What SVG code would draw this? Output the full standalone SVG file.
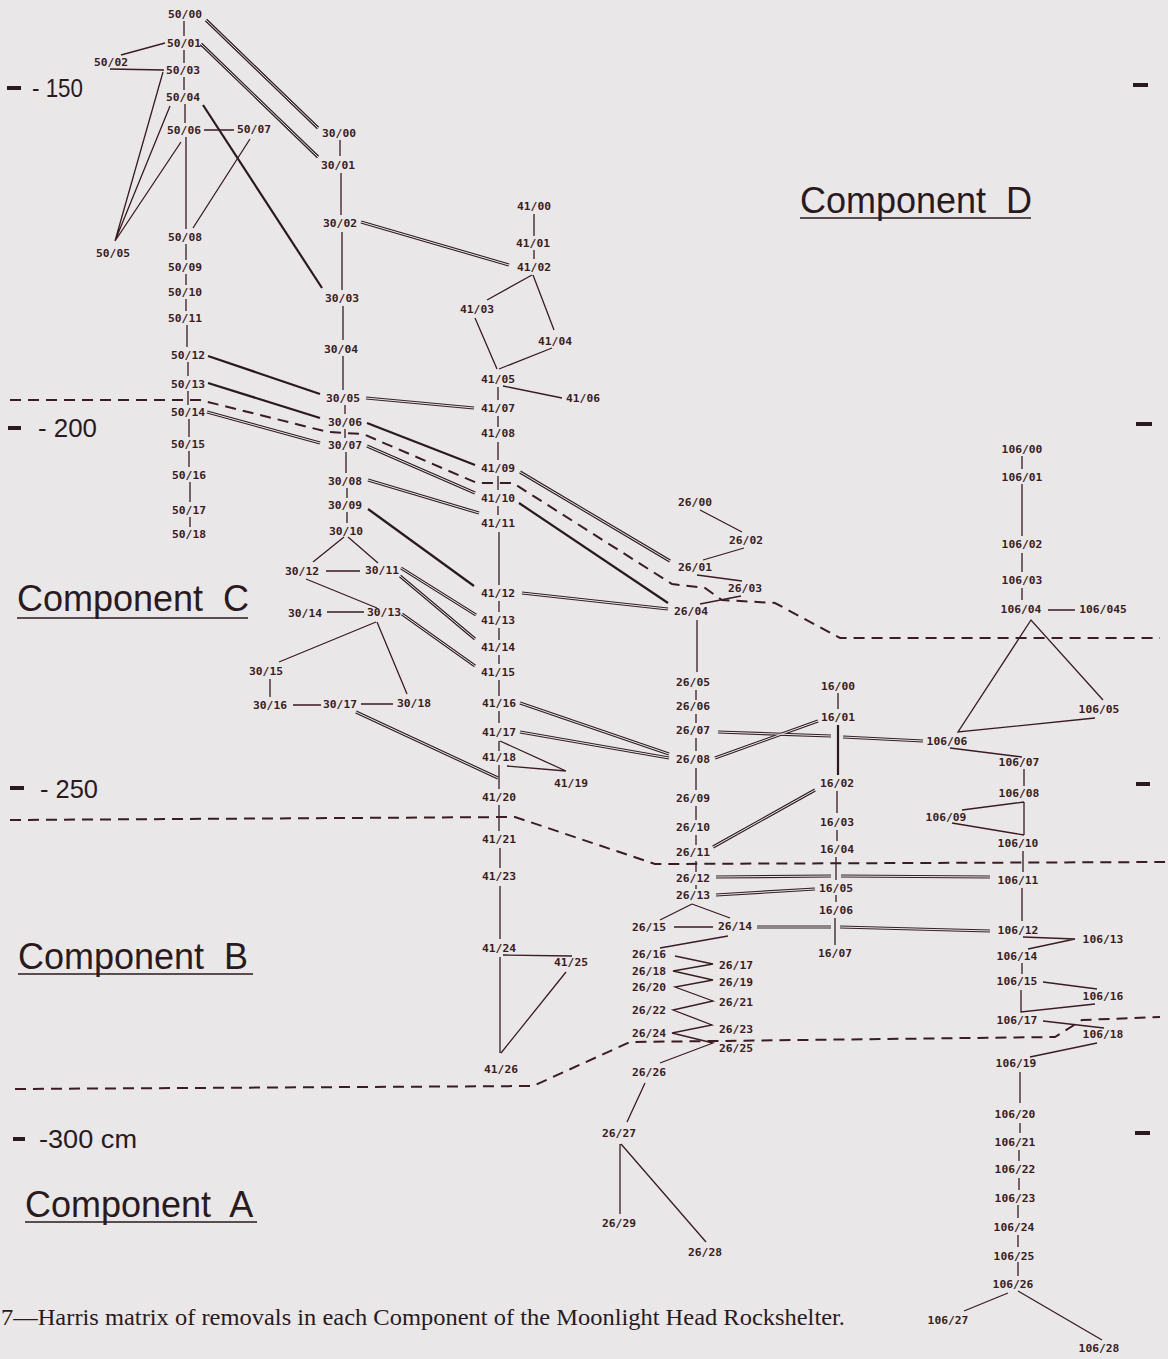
<svg xmlns="http://www.w3.org/2000/svg" xmlns:xlink="http://www.w3.org/1999/xlink" width="1168" height="1359" viewBox="0 0 1168 1359">
<style>
.n{font-family:"DejaVu Sans Mono","Liberation Mono",monospace;font-size:11.3px;font-weight:bold;text-anchor:middle;fill:#3a1c22}
.big{font-family:"Liberation Sans",Arial,sans-serif;font-size:36px;fill:#2a1a1e;word-spacing:10px}
.dep{font-family:"Liberation Sans",Arial,sans-serif;font-size:25px;fill:#2a1a1e}
.cap{font-family:"Liberation Serif","Times New Roman",serif;font-size:23px;fill:#2a1a1e}
.t{fill:none;stroke:#3a1c22;stroke-width:1.3}
.k{fill:none;stroke:#2a1a1e;stroke-width:2.2}
.d{fill:none;stroke:#3a1c22;stroke-width:2;stroke-dasharray:11 7}
.u{fill:none;stroke:#2a1a1e;stroke-width:1.6}
.tick{fill:none;stroke:#2a1a1e;stroke-width:4}
</style>
<defs>
<g id="dblset">
<path d="M206 20L318 128"/>
<path d="M201 44L318 157"/>
<path d="M361 222L509 265"/>
<path d="M366 398L474 408"/>
<path d="M207 412L320 443"/>
<path d="M367 446L475 493"/>
<path d="M368 480L479 513"/>
<path d="M401 568L476 615"/>
<path d="M400 576L475 639"/>
<path d="M402 614L475 666"/>
<path d="M356 712L498 778"/>
<path d="M520 472L670 561"/>
<path d="M522 593L668 609"/>
<path d="M520 703L669 754"/>
<path d="M520 732L669 758"/>
<path d="M718 732L831 736M843 737L923 741"/>
<path d="M715 758L818 721"/>
<path d="M713 847L815 790"/>
<path d="M716 877L831 876M841 876L990 877"/>
<path d="M716 895L815 889"/>
<path d="M757 927L831 927M840 927L990 931"/>
</g>
</defs>
<rect width="1168" height="1359" fill="#e9e7e8"/>

<g id="connectors">
<g id="boundaries">
<path class="d" d="M10 400L200 400L328 432L363 434L477 483L513 483L672 584L705 588L722 600L775 603L840 638L1160 638"/>
<path class="d" d="M10 820L515 817L655 864L1165 862"/>
<path class="d" d="M15 1089L533 1086L630 1042L1055 1037L1082 1020L1160 1017"/>
</g>
<g id="double-lines">
<use xlink:href="#dblset" href="#dblset" fill="none" stroke="#332228" stroke-width="3.2"/>
<use xlink:href="#dblset" href="#dblset" fill="none" stroke="#e9e7e8" stroke-width="1"/>
</g>
<g id="thick-lines">
<path class="k" d="M203 105L322 288"/>
<path class="k" d="M208 356L320 394"/>
<path class="k" d="M208 383L320 418"/>
<path class="k" d="M367 423L475 465"/>
<path class="k" d="M368 509L474 586"/>
<path class="k" d="M519 503L668 603"/>
<path class="k" d="M838 725V775"/>
</g>
<g id="thin-lines">
<path class="t" d="M184 21V36M184 50V63M184 77V90M185 104V123M186 137V229M186 244V260M186 274V285M186 299V311M187 325V347M188 362V376M188 391V405M189 419V437M189 451V467M190 482V502M190 517V527"/>
<path class="t" d="M165 43L121 55M110 69L164 70M163 72L115 241M170 106L115 241M181 142L115 241M204 130H234M250 139L193 228"/>
<path class="t" d="M340 140V156M341 173V215M342 232V290M343 306V340M343 356V390M345 405V414M345 429V438M346 452V473M347 488V498M347 512V523"/>
<path class="t" d="M344 537L313 562M348 537L378 563M326 571H360M306 579L377 608M327 612H364M376 622L279 662M377 622L407 694M270 679V697M293 705H321M361 704H393"/>
<path class="t" d="M534 214V236M534 250V259M532 275L487 300M533 275L554 330M475 318L497 369M552 348L499 369M503 386L562 398"/>
<path class="t" d="M498 387V400M498 416V427M498 442V460M498 476V490M498 506V515M499 532V585M499 601V612M499 628V640M499 655V664M499 680V696M499 711V723M499 741V751M500 741L566 771M507 766L566 771M499 765V789M499 805V831M500 848V868M500 886V939M503 955L572 956M500 957V1053M566 972L501 1053"/>
<path class="t" d="M700 510L742 532M744 548L703 560M697 575L742 581M741 596L700 604M697 620V672M696 690V700M696 714V723M696 738V751M696 768V790M696 806V820M696 835V845M696 861V872M696 885V889"/>
<path class="t" d="M692 904L660 920M692 904L730 918M674 927H713M728 936L660 948M675 956L713 964L673 971L713 980L675 987L713 1001L673 1010L712 1025L672 1033L713 1043L660 1063M645 1083L627 1122M620 1144V1214M621 1144L706 1242"/>
<path class="t" d="M838 693V709M837 791V813M837 830V841M836 857V880M836 895V902M835 918V945"/>
<path class="t" d="M1022 456V469M1022 484V536M1022 553V572M1022 588V600M1048 610H1075M1103 700L1031 620L958 732L1095 718M950 748L1022 757M1024 769V786M1024 802L962 810M1024 802V835M952 823L1024 835M1023 851V872M1022 888V921M1023 937L1075 939L1028 949M1022 963V974M1043 982L1097 989M1021 990V1012L1095 1004M1043 1021L1104 1028M1097 1043L1030 1057"/>
<path class="t" d="M1020 1072V1103M1020 1123V1133M1019 1150V1161M1019 1178V1190M1018 1205V1218M1018 1235V1247M1018 1262V1276M1008 1293L964 1311M1018 1291L1102 1340"/>
</g>
</g>

<g id="scale">
<path class="tick" d="M7 88H21M8 428H21M10 788H24M13 1139H25M1133 85H1148M1136 424H1152M1136 784H1150M1135 1133H1150"/>
<text class="dep" x="32" y="97" textLength="51" lengthAdjust="spacingAndGlyphs">- 150</text>
<text class="dep" x="38" y="437" textLength="59" lengthAdjust="spacingAndGlyphs">- 200</text>
<text class="dep" x="40" y="798" textLength="58" lengthAdjust="spacingAndGlyphs">- 250</text>
<text class="dep" x="39" y="1148" textLength="98" lengthAdjust="spacingAndGlyphs">-300 cm</text>
</g>

<g id="component-labels">
<text class="big" x="800" y="213">Component D</text>
<path class="u" d="M800 218H1031"/>
<text class="big" x="17" y="611">Component C</text>
<path class="u" d="M17 618H248"/>
<text class="big" x="18" y="969">Component B</text>
<path class="u" d="M18 974H253"/>
<text class="big" x="25" y="1217">Component A</text>
<path class="u" d="M25 1222H257"/>
</g>

<text id="caption" class="cap" x="1" y="1325" textLength="844" lengthAdjust="spacingAndGlyphs">7—Harris matrix of removals in each Component of the Moonlight Head Rockshelter.</text>

<g id="n50-00"><text class="n" x="185" y="18">50/00</text></g>
<g id="n50-01"><text class="n" x="184" y="47">50/01</text></g>
<g id="n50-02"><text class="n" x="111" y="66">50/02</text></g>
<g id="n50-03"><text class="n" x="183" y="74">50/03</text></g>
<g id="n50-04"><text class="n" x="183" y="101">50/04</text></g>
<g id="n50-06"><text class="n" x="184" y="134">50/06</text></g>
<g id="n50-07"><text class="n" x="254" y="133">50/07</text></g>
<g id="n50-05"><text class="n" x="113" y="257">50/05</text></g>
<g id="n50-08"><text class="n" x="185" y="241">50/08</text></g>
<g id="n50-09"><text class="n" x="185" y="271">50/09</text></g>
<g id="n50-10"><text class="n" x="185" y="296">50/10</text></g>
<g id="n50-11"><text class="n" x="185" y="322">50/11</text></g>
<g id="n50-12"><text class="n" x="188" y="359">50/12</text></g>
<g id="n50-13"><text class="n" x="188" y="388">50/13</text></g>
<g id="n50-14"><text class="n" x="188" y="416">50/14</text></g>
<g id="n50-15"><text class="n" x="188" y="448">50/15</text></g>
<g id="n50-16"><text class="n" x="189" y="479">50/16</text></g>
<g id="n50-17"><text class="n" x="189" y="514">50/17</text></g>
<g id="n50-18"><text class="n" x="189" y="538">50/18</text></g>

<g id="n30-00"><text class="n" x="339" y="137">30/00</text></g>
<g id="n30-01"><text class="n" x="338" y="169">30/01</text></g>
<g id="n30-02"><text class="n" x="340" y="227">30/02</text></g>
<g id="n30-03"><text class="n" x="342" y="302">30/03</text></g>
<g id="n30-04"><text class="n" x="341" y="353">30/04</text></g>
<g id="n30-05"><text class="n" x="343" y="402">30/05</text></g>
<g id="n30-06"><text class="n" x="345" y="426">30/06</text></g>
<g id="n30-07"><text class="n" x="345" y="449">30/07</text></g>
<g id="n30-08"><text class="n" x="345" y="485">30/08</text></g>
<g id="n30-09"><text class="n" x="345" y="509">30/09</text></g>
<g id="n30-10"><text class="n" x="346" y="535">30/10</text></g>
<g id="n30-12"><text class="n" x="302" y="575">30/12</text></g>
<g id="n30-11"><text class="n" x="382" y="574">30/11</text></g>
<g id="n30-14"><text class="n" x="305" y="617">30/14</text></g>
<g id="n30-13"><text class="n" x="384" y="616">30/13</text></g>
<g id="n30-15"><text class="n" x="266" y="675">30/15</text></g>
<g id="n30-16"><text class="n" x="270" y="709">30/16</text></g>
<g id="n30-17"><text class="n" x="340" y="708">30/17</text></g>
<g id="n30-18"><text class="n" x="414" y="707">30/18</text></g>

<g id="n41-00"><text class="n" x="534" y="210">41/00</text></g>
<g id="n41-01"><text class="n" x="533" y="247">41/01</text></g>
<g id="n41-02"><text class="n" x="534" y="271">41/02</text></g>
<g id="n41-03"><text class="n" x="477" y="313">41/03</text></g>
<g id="n41-04"><text class="n" x="555" y="345">41/04</text></g>
<g id="n41-05"><text class="n" x="498" y="383">41/05</text></g>
<g id="n41-06"><text class="n" x="583" y="402">41/06</text></g>
<g id="n41-07"><text class="n" x="498" y="412">41/07</text></g>
<g id="n41-08"><text class="n" x="498" y="437">41/08</text></g>
<g id="n41-09"><text class="n" x="498" y="472">41/09</text></g>
<g id="n41-10"><text class="n" x="498" y="502">41/10</text></g>
<g id="n41-11"><text class="n" x="498" y="527">41/11</text></g>
<g id="n41-12"><text class="n" x="498" y="597">41/12</text></g>
<g id="n41-13"><text class="n" x="498" y="624">41/13</text></g>
<g id="n41-14"><text class="n" x="498" y="651">41/14</text></g>
<g id="n41-15"><text class="n" x="498" y="676">41/15</text></g>
<g id="n41-16"><text class="n" x="499" y="707">41/16</text></g>
<g id="n41-17"><text class="n" x="499" y="736">41/17</text></g>
<g id="n41-18"><text class="n" x="499" y="761">41/18</text></g>
<g id="n41-19"><text class="n" x="571" y="787">41/19</text></g>
<g id="n41-20"><text class="n" x="499" y="801">41/20</text></g>
<g id="n41-21"><text class="n" x="499" y="843">41/21</text></g>
<g id="n41-23"><text class="n" x="499" y="880">41/23</text></g>
<g id="n41-24"><text class="n" x="499" y="952">41/24</text></g>
<g id="n41-25"><text class="n" x="571" y="966">41/25</text></g>
<g id="n41-26"><text class="n" x="501" y="1073">41/26</text></g>

<g id="n26-00"><text class="n" x="695" y="506">26/00</text></g>
<g id="n26-02"><text class="n" x="746" y="544">26/02</text></g>
<g id="n26-01"><text class="n" x="695" y="571">26/01</text></g>
<g id="n26-03"><text class="n" x="745" y="592">26/03</text></g>
<g id="n26-04"><text class="n" x="691" y="615">26/04</text></g>
<g id="n26-05"><text class="n" x="693" y="686">26/05</text></g>
<g id="n26-06"><text class="n" x="693" y="710">26/06</text></g>
<g id="n26-07"><text class="n" x="693" y="734">26/07</text></g>
<g id="n26-08"><text class="n" x="693" y="763">26/08</text></g>
<g id="n26-09"><text class="n" x="693" y="802">26/09</text></g>
<g id="n26-10"><text class="n" x="693" y="831">26/10</text></g>
<g id="n26-11"><text class="n" x="693" y="856">26/11</text></g>
<g id="n26-12"><text class="n" x="693" y="882">26/12</text></g>
<g id="n26-13"><text class="n" x="693" y="899">26/13</text></g>
<g id="n26-15"><text class="n" x="649" y="931">26/15</text></g>
<g id="n26-14"><text class="n" x="735" y="930">26/14</text></g>
<g id="n26-16"><text class="n" x="649" y="958">26/16</text></g>
<g id="n26-17"><text class="n" x="736" y="969">26/17</text></g>
<g id="n26-18"><text class="n" x="649" y="975">26/18</text></g>
<g id="n26-19"><text class="n" x="736" y="986">26/19</text></g>
<g id="n26-20"><text class="n" x="649" y="991">26/20</text></g>
<g id="n26-21"><text class="n" x="736" y="1006">26/21</text></g>
<g id="n26-22"><text class="n" x="649" y="1014">26/22</text></g>
<g id="n26-24"><text class="n" x="649" y="1037">26/24</text></g>
<g id="n26-23"><text class="n" x="736" y="1033">26/23</text></g>
<g id="n26-25"><text class="n" x="736" y="1052">26/25</text></g>
<g id="n26-26"><text class="n" x="649" y="1076">26/26</text></g>
<g id="n26-27"><text class="n" x="619" y="1137">26/27</text></g>
<g id="n26-29"><text class="n" x="619" y="1227">26/29</text></g>
<g id="n26-28"><text class="n" x="705" y="1256">26/28</text></g>

<g id="n16-00"><text class="n" x="838" y="690">16/00</text></g>
<g id="n16-01"><text class="n" x="838" y="721">16/01</text></g>
<g id="n16-02"><text class="n" x="837" y="787">16/02</text></g>
<g id="n16-03"><text class="n" x="837" y="826">16/03</text></g>
<g id="n16-04"><text class="n" x="837" y="853">16/04</text></g>
<g id="n16-05"><text class="n" x="836" y="892">16/05</text></g>
<g id="n16-06"><text class="n" x="836" y="914">16/06</text></g>
<g id="n16-07"><text class="n" x="835" y="957">16/07</text></g>

<g id="n106-00"><text class="n" x="1022" y="453">106/00</text></g>
<g id="n106-01"><text class="n" x="1022" y="481">106/01</text></g>
<g id="n106-02"><text class="n" x="1022" y="548">106/02</text></g>
<g id="n106-03"><text class="n" x="1022" y="584">106/03</text></g>
<g id="n106-04"><text class="n" x="1021" y="613">106/04</text></g>
<g id="n106-045"><text class="n" x="1103" y="613">106/045</text></g>
<g id="n106-05"><text class="n" x="1099" y="713">106/05</text></g>
<g id="n106-06"><text class="n" x="947" y="745">106/06</text></g>
<g id="n106-07"><text class="n" x="1019" y="766">106/07</text></g>
<g id="n106-08"><text class="n" x="1019" y="797">106/08</text></g>
<g id="n106-09"><text class="n" x="946" y="821">106/09</text></g>
<g id="n106-10"><text class="n" x="1018" y="847">106/10</text></g>
<g id="n106-11"><text class="n" x="1018" y="884">106/11</text></g>
<g id="n106-12"><text class="n" x="1018" y="934">106/12</text></g>
<g id="n106-13"><text class="n" x="1103" y="943">106/13</text></g>
<g id="n106-14"><text class="n" x="1017" y="960">106/14</text></g>
<g id="n106-15"><text class="n" x="1017" y="985">106/15</text></g>
<g id="n106-16"><text class="n" x="1103" y="1000">106/16</text></g>
<g id="n106-17"><text class="n" x="1017" y="1024">106/17</text></g>
<g id="n106-18"><text class="n" x="1103" y="1038">106/18</text></g>
<g id="n106-19"><text class="n" x="1016" y="1067">106/19</text></g>
<g id="n106-20"><text class="n" x="1015" y="1118">106/20</text></g>
<g id="n106-21"><text class="n" x="1015" y="1146">106/21</text></g>
<g id="n106-22"><text class="n" x="1015" y="1173">106/22</text></g>
<g id="n106-23"><text class="n" x="1015" y="1202">106/23</text></g>
<g id="n106-24"><text class="n" x="1014" y="1231">106/24</text></g>
<g id="n106-25"><text class="n" x="1014" y="1260">106/25</text></g>
<g id="n106-26"><text class="n" x="1013" y="1288">106/26</text></g>
<g id="n106-27"><text class="n" x="948" y="1324">106/27</text></g>
<g id="n106-28"><text class="n" x="1099" y="1352">106/28</text></g>
</svg>
